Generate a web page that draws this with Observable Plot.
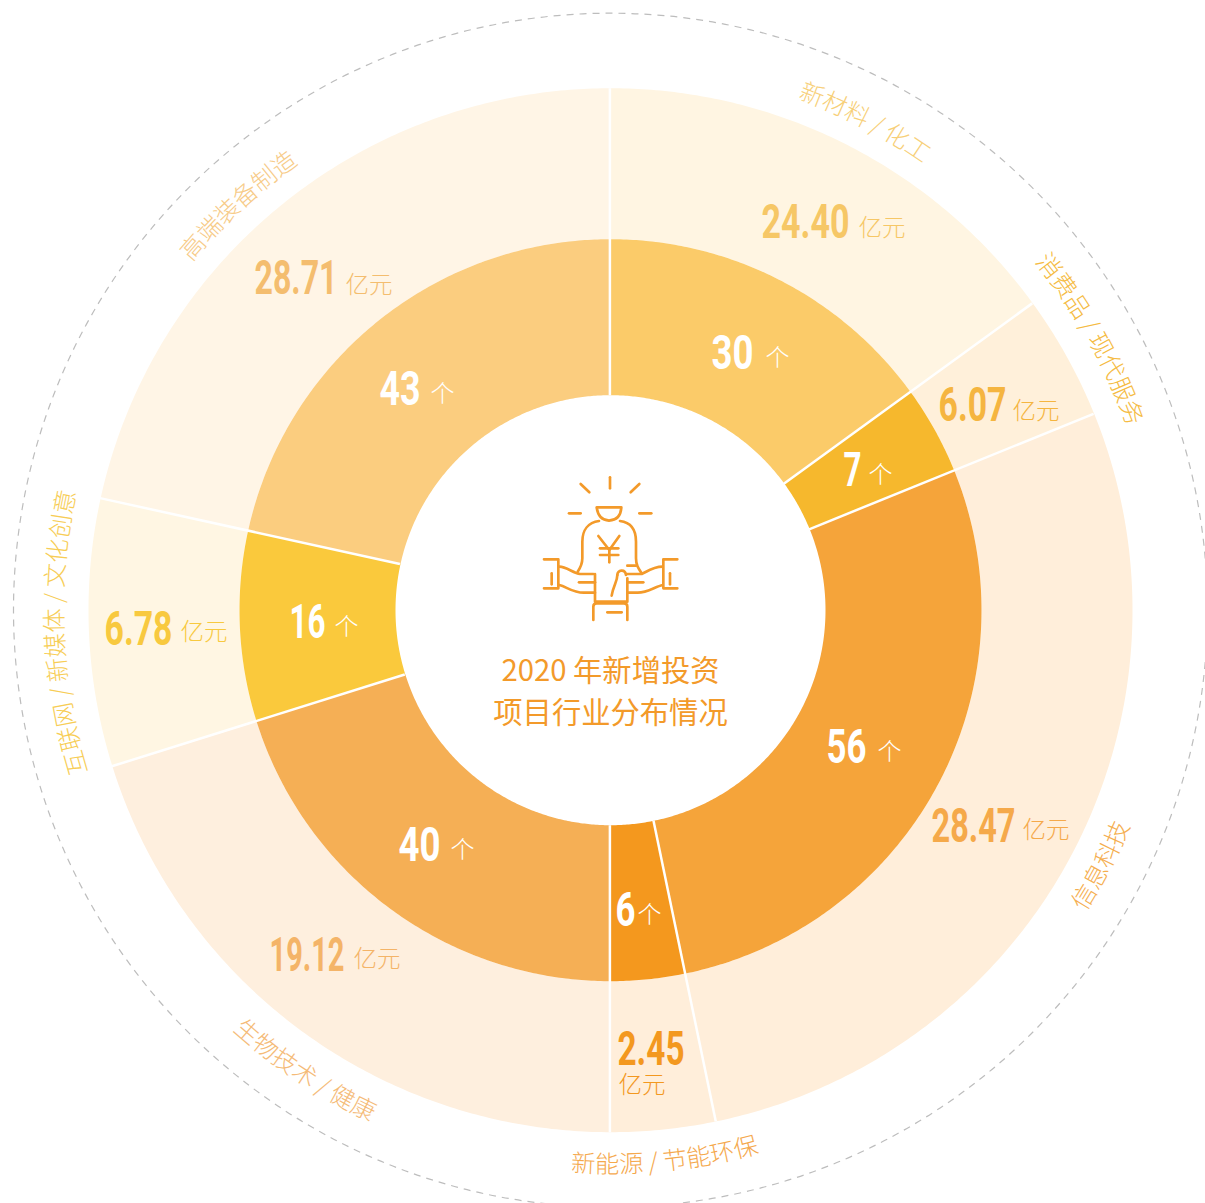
<!DOCTYPE html>
<html><head><meta charset="utf-8">
<script src="https://cdn.jsdelivr.net/npm/d3@7"></script>
<script src="https://cdn.jsdelivr.net/npm/@observablehq/plot@0.6"></script>
<style>
html,body{margin:0;padding:0;background:#fff}
svg{display:block}
</style></head><body><div id="chart"></div>
<script>
// ---- chart values, clockwise from twelve o'clock
const industries = ["新材料 / 化工","消费品 / 现代服务","信息科技","新能源 / 节能环保","生物技术 / 健康","互联网 / 新媒体 / 文化创意","高端装备制造"];
const projectCounts = [30,7,56,6,40,16,43];
const investments = ["24.40","6.07","28.47","2.45","19.12","6.78","28.71"];
const sliceDegrees = [54.0,13.9,100.4,11.7,72.6,29.8,77.6];
const titleLines = ["2020 年新增投资","项目行业分布情况"];
const moneyUnit = "亿元", countUnit = "个";

// ---- styles
const innerColors = ["#FBCB69","#F6B82D","#F5A43A","#F4981E","#F5AF55","#FAC93C","#FBCD7F"];
const outerColors = ["#FFF5E2","#FFF0DA","#FFEEDA","#FFEEDA","#FEEFDE","#FFF6E3","#FFF5E6"];
const numColors   = ["#F6C766","#F5B540","#F5A94A","#F3981F","#F4B468","#F8C93F","#F4BD6F"];
const labelColors = ["#F7CF78","#F5BB42","#F5AE50","#F5A94E","#F5BB78","#F7CD55","#F7CB88"];
const accent = "#F39A2A";
const cjk = "'Noto Sans CJK SC','Noto Sans',sans-serif";
const numFont = "Roboto,'Liberation Sans',sans-serif";

// ---- layout
const W=1205,H=1203,cx=610,cy=609.7;
const R0=215,R1=371,R2=522,RD=597;
const pol=(deg,r)=>[cx+r*Math.sin(deg*Math.PI/180),cy-r*Math.cos(deg*Math.PI/180)];
const bounds=[0,...d3.cumsum(sliceDegrees)];
const sector=(a0,a1,r0,r1)=>{
  const n=Math.max(2,Math.ceil((a1-a0)*2)),pts=[];
  for(let i=0;i<=n;i++)pts.push(pol(a0+(a1-a0)*i/n,r1));
  for(let i=n;i>=0;i--)pts.push(pol(a0+(a1-a0)*i/n,r0));
  pts.push(pts[0]);return pts;
};
// number x,baseline,width  unit x,baseline
const moneyPos=[[761,237,88,858,235],[938,420,68,1012,418],[931,841,84,1022,837],[617,1064,67,618,1092],[269,970,75,353,966],[104,644,68,180,639],[254,293,83,345,292]];
const countPos=[[711,368,42,765,365],[843,485,18,868,482],[826,762,40,877,759],[615,925,20,637,922],[398,860,42,450,857],[289,637,36,334,634],[379,404,41,430,401]];
// arc labels: centre angle, baseline radius, direction
const arcPos=[[27.6,545,1],[60.6,549,1],[117.5,563,-1],[174.3,563,-1],[213.5,565,-1],[267.6,547,1],[317.4,544,1]];

const sectorMarks=[];
projectCounts.forEach((c,i)=>{
  sectorMarks.push(Plot.line(sector(bounds[i],bounds[i+1],R1,R2),{x:"0",y:"1",fill:outerColors[i],stroke:"none"}));
  sectorMarks.push(Plot.line(sector(bounds[i],bounds[i+1],R0,R1),{x:"0",y:"1",fill:innerColors[i],stroke:"none"}));
});
const spokes=bounds.slice(0,-1).map(a=>({a,p:pol(a,R0),q:pol(a,R2)}));

function arcLabels(index,scales){
  const g=d3.create("svg:g");
  industries.forEach((t,i)=>{
    const [a,r,dir]=arcPos[i];
    const s=pol(a-dir*179.9,r),e=pol(a+dir*179.9,r);
    g.append("path").attr("id","arc"+i).attr("fill","none")
     .attr("d",`M${scales.x(s[0])},${scales.y(s[1])}A${r},${r} 0 1 ${dir>0?1:0} ${scales.x(e[0])},${scales.y(e[1])}`);
    g.append("text").attr("font-family",cjk).attr("font-weight",300).attr("font-size",24.3)
     .attr("fill",labelColors[i]).attr("text-anchor","middle")
     .append("textPath").attr("href","#arc"+i).attr("startOffset","50%").text(t);
  });
  return g.node();
}
function icon(){
  const g=d3.create("svg:g").attr("transform",`translate(530,465) scale(${1/3})`)
    .attr("fill","none").attr("stroke",accent).attr("stroke-width",8).attr("stroke-linecap","round").attr("stroke-linejoin","round");
  const d=[
   "M240 37V70","M152 57L178 82","M328 57L302 82","M117 145H152","M328 145H364",
   "M200 127H274Q272 165 237 167Q205 165 200 127Z",
   "M207 168C175 172 157 195 157 230V280C157 300 150 310 143 320",
   "M270 168C302 172 318 195 318 230V280C318 300 325 310 335 325",
   "M205 213L238 255L268 213","M210 250H265","M210 270H265","M238 255V292",
   "M42 283H85V370H42","M65 325V358","M88 305C110 305 130 325 150 327H190","M147 352H195","M88 360C110 365 130 385 165 383H195",
   "M442 283H400V370H442","M420 325V358","M398 305C370 305 350 320 335 327H292","M292 302H318","M340 352H292","M398 360C375 365 350 385 320 383H292",
   "M195 327V410H292V340","M262 330C262 315 285 310 288 330","M245 392C250 360 262 350 262 330",
   "M190 465V425Q190 415 200 415H282Q292 415 292 425V465","M232 442H275"
  ];
  d.forEach(p=>g.append("path").attr("d",p));
  return g.node();
}

const idx=d3.range(industries.length);
const chart=Plot.plot({
  width:W,height:H,margin:0,
  x:{domain:[0,W],range:[0,W],axis:null},
  y:{domain:[0,H],range:[0,H],axis:null},
  marks:[
    Plot.dot([[cx,cy]],{x:"0",y:"1",r:RD,fill:"none",stroke:"#bdbdbd",strokeWidth:1.2,strokeDasharray:"7 6"}),
    ...sectorMarks,
    Plot.link(spokes,{x1:d=>d.p[0]-0.6,y1:d=>d.p[1],x2:d=>d.q[0]-0.6,y2:d=>d.q[1],stroke:"#fff",strokeWidth:2.5}),
    Plot.text(idx,{x:i=>moneyPos[i][0],y:i=>moneyPos[i][1],text:i=>investments[i],fill:i=>numColors[i],
      fontFamily:numFont,fontWeight:700,fontSize:49,textAnchor:"start",lineAnchor:"bottom",className:"num"}),
    Plot.text(idx,{x:i=>moneyPos[i][3],y:i=>moneyPos[i][4],text:()=>moneyUnit,fill:i=>numColors[i],
      fontFamily:cjk,fontWeight:300,fontSize:23.5,textAnchor:"start",lineAnchor:"bottom"}),
    Plot.text(idx,{x:i=>countPos[i][0],y:i=>countPos[i][1],text:i=>String(projectCounts[i]),fill:"#fff",
      fontFamily:numFont,fontWeight:700,fontSize:49,textAnchor:"start",lineAnchor:"bottom",className:"cnt"}),
    Plot.text(idx,{x:i=>countPos[i][3],y:i=>countPos[i][4],text:()=>countUnit,fill:"#fff",
      fontFamily:cjk,fontWeight:300,fontSize:24,textAnchor:"start",lineAnchor:"bottom"}),
    Plot.text(titleLines,{x:()=>cx,y:(d,i)=>[680,722][i],text:d=>d,fill:accent,fontFamily:cjk,fontWeight:400,fontSize:29.3,textAnchor:"middle",lineAnchor:"bottom"}),
    arcLabels,
    icon
  ]
});
// condensed digits: squeeze each number to its width in the picture
d3.select(chart).selectAll("g.num text").each(function(_,i){this.setAttribute("textLength",moneyPos[i][2]);this.setAttribute("lengthAdjust","spacingAndGlyphs");});
d3.select(chart).selectAll("g.cnt text").each(function(_,i){this.setAttribute("textLength",countPos[i][2]);this.setAttribute("lengthAdjust","spacingAndGlyphs");});
document.getElementById("chart").append(chart);
</script></body></html>
